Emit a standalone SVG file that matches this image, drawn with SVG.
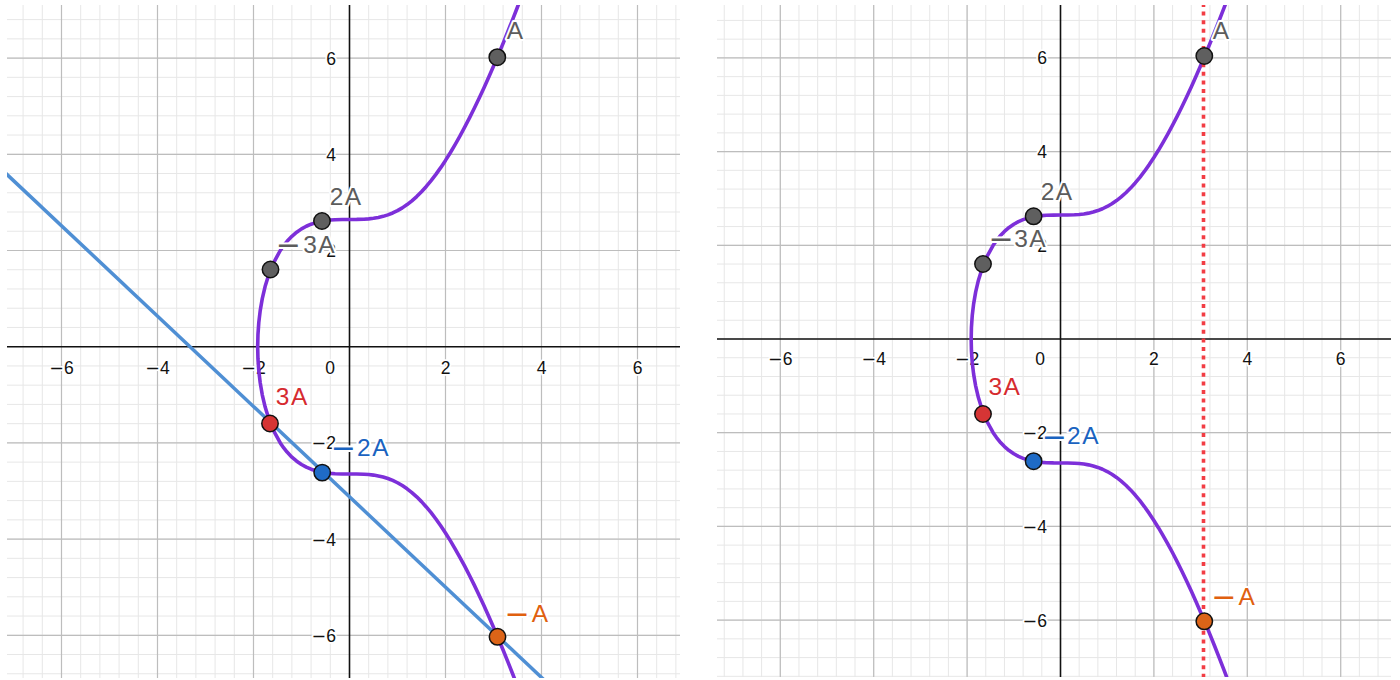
<svg xmlns="http://www.w3.org/2000/svg" xmlns:xlink="http://www.w3.org/1999/xlink" width="1400" height="680" viewBox="0 0 1400 680">
<style>
.minor{fill:none;stroke:#e7e7e7;stroke-width:1;vector-effect:non-scaling-stroke}
.major{fill:none;stroke:#bdbdbd;stroke-width:1.2;vector-effect:non-scaling-stroke}
.axis{stroke:#111;stroke-width:1.6}
.curve{fill:none;stroke:#7d2fd9;stroke-width:3.6;stroke-linejoin:round;vector-effect:non-scaling-stroke}
.line{stroke:#4f8fd4;stroke-width:3.5}
.vline{stroke:#f23d44;stroke-width:3.6;stroke-dasharray:4 4.6}
.tick{font-family:"Liberation Sans",Arial,sans-serif;font-size:17.5px;fill:#111;stroke:#fff;stroke-width:3.5;paint-order:stroke;stroke-linejoin:round}
.tx{text-anchor:middle}
.ty{text-anchor:end}
.lbl{font-family:"Liberation Sans",Arial,sans-serif;font-size:24.5px;letter-spacing:1.5px;stroke:#fff;stroke-width:4;paint-order:stroke;stroke-linejoin:round}
.m{font-family:"DejaVu Sans",sans-serif}
.mm{font-family:"DejaVu Sans",sans-serif;font-size:30px}
.gray{fill:#5c5c5c}
.red{fill:#d62b2f}
.blue{fill:#1a63c0}
.orange{fill:#e0600f}
.dot{stroke:#111;stroke-width:1.5}
.dg{fill:#5f5f5f}
.dr{fill:#d63535}
.db{fill:#1f6bc6}
.do{fill:#dc6418}
</style>
<defs>
<clipPath id="clipL"><rect x="7" y="5" width="673" height="673"/></clipPath>
<clipPath id="clipR"><rect x="717" y="5" width="674" height="672"/></clipPath>
<path id="gridMinor" class="minor" d="M-8 -8V8M-7.6 -8V8M-7.2 -8V8M-6.8 -8V8M-6.4 -8V8M-6 -8V8M-5.6 -8V8M-5.2 -8V8M-4.8 -8V8M-4.4 -8V8M-4 -8V8M-3.6 -8V8M-3.2 -8V8M-2.8 -8V8M-2.4 -8V8M-2 -8V8M-1.6 -8V8M-1.2 -8V8M-0.8 -8V8M-0.4 -8V8M0 -8V8M0.4 -8V8M0.8 -8V8M1.2 -8V8M1.6 -8V8M2 -8V8M2.4 -8V8M2.8 -8V8M3.2 -8V8M3.6 -8V8M4 -8V8M4.4 -8V8M4.8 -8V8M5.2 -8V8M5.6 -8V8M6 -8V8M6.4 -8V8M6.8 -8V8M7.2 -8V8M7.6 -8V8M8 -8V8M-8 -8H8M-8 -7.6H8M-8 -7.2H8M-8 -6.8H8M-8 -6.4H8M-8 -6H8M-8 -5.6H8M-8 -5.2H8M-8 -4.8H8M-8 -4.4H8M-8 -4H8M-8 -3.6H8M-8 -3.2H8M-8 -2.8H8M-8 -2.4H8M-8 -2H8M-8 -1.6H8M-8 -1.2H8M-8 -0.8H8M-8 -0.4H8M-8 0H8M-8 0.4H8M-8 0.8H8M-8 1.2H8M-8 1.6H8M-8 2H8M-8 2.4H8M-8 2.8H8M-8 3.2H8M-8 3.6H8M-8 4H8M-8 4.4H8M-8 4.8H8M-8 5.2H8M-8 5.6H8M-8 6H8M-8 6.4H8M-8 6.8H8M-8 7.2H8M-8 7.6H8M-8 8H8"/>
<path id="gridMajor" class="major" d="M-8 -8V8M-6 -8V8M-4 -8V8M-2 -8V8M2 -8V8M4 -8V8M6 -8V8M8 -8V8M-8 -8H8M-8 -6H8M-8 -4H8M-8 -2H8M-8 2H8M-8 4H8M-8 6H8M-8 8H8"/>
<path id="ec" class="curve" d="M3.7 -7.593L3.6 -7.325L3.5 -7.0622L3.4 -6.8047L3.3 -6.5526L3.2 -6.3062L3.1 -6.0656L3 -5.831L2.9 -5.6026L2.8 -5.3807L2.7 -5.1656L2.6 -4.9574L2.5 -4.7566L2.4 -4.5633L2.3 -4.378L2.2 -4.201L2.1 -4.0325L2 -3.873L1.9 -3.7228L1.8 -3.5822L1.7 -3.4515L1.6 -3.3311L1.5 -3.221L1.4 -3.1215L1.3 -3.0327L1.2 -2.9543L1.1 -2.8864L1 -2.8284L0.9 -2.7801L0.8 -2.7408L0.7 -2.7098L0.6 -2.6863L0.5 -2.6693L0.4 -2.6578L0.3 -2.6508L0.15 -2.6464L0 -2.6458L-0.15 -2.6451L-0.3 -2.6407L-0.4 -2.6336L-0.5 -2.622L-0.6 -2.6046L-0.7 -2.5801L-0.8 -2.5472L-0.9 -2.5042L-1 -2.4495L-1.1 -2.381L-1.2 -2.2961L-1.3 -2.1916L-1.37 -2.1045L-1.4422 -2L-1.579 -1.75L-1.681 -1.5L-1.7585 -1.25L-1.8171 -1L-1.8602 -0.75L-1.8899 -0.5L-1.9072 -0.25L-1.9129 0L-1.9072 0.25L-1.8899 0.5L-1.8602 0.75L-1.8171 1L-1.7585 1.25L-1.681 1.5L-1.579 1.75L-1.4422 2L-1.37 2.1045L-1.3 2.1916L-1.2 2.2961L-1.1 2.381L-1 2.4495L-0.9 2.5042L-0.8 2.5472L-0.7 2.5801L-0.6 2.6046L-0.5 2.622L-0.4 2.6336L-0.3 2.6407L-0.15 2.6451L0 2.6458L0.15 2.6464L0.3 2.6508L0.4 2.6578L0.5 2.6693L0.6 2.6863L0.7 2.7098L0.8 2.7408L0.9 2.7801L1 2.8284L1.1 2.8864L1.2 2.9543L1.3 3.0327L1.4 3.1215L1.5 3.221L1.6 3.3311L1.7 3.4515L1.8 3.5822L1.9 3.7228L2 3.873L2.1 4.0325L2.2 4.201L2.3 4.378L2.4 4.5633L2.5 4.7566L2.6 4.9574L2.7 5.1656L2.8 5.3807L2.9 5.6026L3 5.831L3.1 6.0656L3.2 6.3062L3.3 6.5526L3.4 6.8047L3.5 7.0622L3.6 7.325L3.7 7.593"/>
</defs>
<rect width="1400" height="680" fill="#fff"/>

<!-- LEFT PANEL -->
<g id="left-panel" clip-path="url(#clipL)">
  <g id="left-grid" transform="translate(349.5 346.7) scale(48 -48.1)">
    <use xlink:href="#gridMinor"/>
    <use xlink:href="#gridMajor"/>
  </g>
  <g id="left-axes">
    <line class="axis" x1="7" y1="346.7" x2="680" y2="346.7"/>
    <line class="axis" x1="349.5" y1="5" x2="349.5" y2="678"/>
    <g class="tick tx">
      <text x="61.5" y="373.5"><tspan class="m">−</tspan>6</text>
      <text x="157.5" y="373.5"><tspan class="m">−</tspan>4</text>
      <text x="253.5" y="373.5"><tspan class="m">−</tspan>2</text>
      <text x="330" y="373.5">0</text>
      <text x="445.5" y="373.5">2</text>
      <text x="541.5" y="373.5">4</text>
      <text x="637.5" y="373.5">6</text>
    </g>
    <g class="tick ty">
      <text x="336" y="64.6">6</text>
      <text x="336" y="160.8">4</text>
      <text x="336" y="257">2</text>
      <text x="336" y="449.4"><tspan class="m">−</tspan>2</text>
      <text x="336" y="545.6"><tspan class="m">−</tspan>4</text>
      <text x="336" y="641.8"><tspan class="m">−</tspan>6</text>
    </g>
  </g>
  <g id="left-connectors">
    <line id="left-secant" class="line" x1="5" y1="172.6" x2="546" y2="681.7"/>
  </g>
  <g id="left-curve" transform="translate(349.5 346.7) scale(48 -48.1)">
    <use xlink:href="#ec"/>
  </g>
  <g id="L-A"><circle class="dot dg" cx="497.3" cy="57.2" r="8.2"/><text class="lbl gray" x="506.7" y="38.5">A</text></g>
  <g id="L-2A"><circle class="dot dg" cx="322" cy="221" r="8.2"/><text class="lbl gray" x="329.7" y="205">2A</text></g>
  <g id="L-m3A"><circle class="dot dg" cx="270.5" cy="269.5" r="8.2"/><text class="lbl gray" x="275.8" y="253"><tspan class="mm" dy="2.3">−</tspan><tspan dx="0.7" dy="-2.3">3A</tspan></text></g>
  <g id="L-3A"><circle class="dot dr" cx="270" cy="423.5" r="8.2"/><text class="lbl red" x="275.8" y="405">3A</text></g>
  <g id="L-m2A"><circle class="dot db" cx="322.2" cy="472.6" r="8.2"/><text class="lbl blue" x="330.8" y="456"><tspan class="mm" dy="2.3">−</tspan><tspan dx="-0.4" dy="-2.3">2A</tspan></text></g>
  <g id="L-mA"><circle class="dot do" cx="497.5" cy="636.8" r="8.2"/><text class="lbl orange" x="504.5" y="621.5"><tspan class="mm" dy="2.3">−</tspan><tspan dx="0.6" dy="-2.3">A</tspan></text></g>
</g>

<!-- RIGHT PANEL -->
<g id="right-panel" clip-path="url(#clipR)">
  <g id="right-grid" transform="translate(1060.5 339) scale(46.7 -46.85)">
    <use xlink:href="#gridMinor"/>
    <use xlink:href="#gridMajor"/>
  </g>
  <g id="right-axes">
    <line class="axis" x1="717" y1="339" x2="1391" y2="339"/>
    <line class="axis" x1="1060.5" y1="5" x2="1060.5" y2="677"/>
    <g class="tick tx">
      <text x="780.3" y="365"><tspan class="m">−</tspan>6</text>
      <text x="873.7" y="365"><tspan class="m">−</tspan>4</text>
      <text x="967.1" y="365"><tspan class="m">−</tspan>2</text>
      <text x="1040" y="365">0</text>
      <text x="1153.9" y="365">2</text>
      <text x="1247.3" y="365">4</text>
      <text x="1340.7" y="365">6</text>
    </g>
    <g class="tick ty">
      <text x="1047" y="64.4">6</text>
      <text x="1047" y="158.1">4</text>
      <text x="1047" y="251.8">2</text>
      <text x="1047" y="439.2"><tspan class="m">−</tspan>2</text>
      <text x="1047" y="532.9"><tspan class="m">−</tspan>4</text>
      <text x="1047" y="626.6"><tspan class="m">−</tspan>6</text>
    </g>
  </g>
  <g id="right-curve" transform="translate(1060.5 339) scale(46.7 -46.85)">
    <use xlink:href="#ec"/>
  </g>
  <g id="right-connectors">
    <line id="right-vertical" class="vline" x1="1203.5" y1="3" x2="1203.5" y2="680"/>
  </g>
  <g id="R-A"><circle class="dot dg" cx="1204.3" cy="56" r="8.2"/><text class="lbl gray" x="1212.7" y="38.5">A</text></g>
  <g id="R-2A"><circle class="dot dg" cx="1033.6" cy="216.3" r="8.2"/><text class="lbl gray" x="1040.7" y="200">2A</text></g>
  <g id="R-m3A"><circle class="dot dg" cx="983" cy="264" r="8.2"/><text class="lbl gray" x="988.5" y="246.7"><tspan class="mm" dy="2.3">−</tspan><tspan dx="-1" dy="-2.3">3A</tspan></text></g>
  <g id="R-3A"><circle class="dot dr" cx="983" cy="414" r="8.2"/><text class="lbl red" x="988.4" y="395">3A</text></g>
  <g id="R-m2A"><circle class="dot db" cx="1033.6" cy="461.2" r="8.2"/><text class="lbl blue" x="1041.8" y="444.3"><tspan class="mm" dy="2.3">−</tspan><tspan dx="-1.4" dy="-2.3">2A</tspan></text></g>
  <g id="R-mA"><circle class="dot do" cx="1204.3" cy="621.3" r="8.2"/><text class="lbl orange" x="1211.3" y="605"><tspan class="mm" dy="2.3">−</tspan><tspan dx="0.6" dy="-2.3">A</tspan></text></g>
</g>
</svg>
